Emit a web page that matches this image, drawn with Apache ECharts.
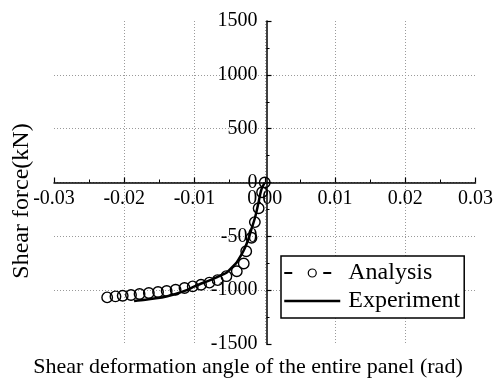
<!DOCTYPE html>
<html>
<head>
<meta charset="utf-8">
<script src="https://cdn.jsdelivr.net/npm/echarts@6/dist/echarts.min.js"></script>
<style>
  html, body { margin: 0; padding: 0; background: #fff; }
  #chart { width: 496px; height: 380px; }
</style>
</head>
<body>
<div id="chart"></div>
<script>
// Shear deformation angle (rad) vs. shear force (kN)
const analysisAngle = [-0.02243, -0.02125, -0.02022, -0.01904, -0.01782, -0.01650, -0.01519,
  -0.01396, -0.01269, -0.01142, -0.01025, -0.00907, -0.00788, -0.00671, -0.00546, -0.00398,
  -0.00299, -0.00264, -0.00189, -0.00141, -0.00087, -0.00038, 0.0];
const analysisForce = [-1067, -1058, -1052, -1045, -1036, -1027, -1017,
  -1008, -996, -980, -965, -950, -930, -907, -870, -824,
  -752, -638, -513, -368, -239, -90, 0];

const experimentAngle = [-0.0186, -0.0170, -0.0155, -0.0140, -0.0127, -0.0113, -0.0100,
  -0.0085, -0.0073, -0.0060, -0.0054, -0.0047, -0.0040, -0.0034, -0.0028, -0.0023,
  -0.0019, -0.0014, -0.0009, -0.0005, 0.0];
const experimentForce = [-1100, -1090, -1076, -1058, -1036, -1005, -965,
  -925, -895, -855, -835, -790, -742, -680, -603, -520,
  -433, -330, -190, -70, 0];

const xTicks = { min: -0.03, max: 0.03, step: 0.01 };
const yTicks = { min: -1500, max: 1500, step: 500 };

const xTitle = 'Shear deformation angle of the entire panel (rad)';
const yTitle = 'Shear force(kN)';

const FONT = "'Liberation Serif', 'Times New Roman', serif";

const pairs = (xs, ys) => xs.map((x, i) => [x, ys[i]]);

// plot area
const GRID = { left: 54, right: 17, top: 21, bottom: 36 };
const W = 496, H = 380;
const plotW = W - GRID.left - GRID.right;
const plotH = H - GRID.top - GRID.bottom;
// shift each axis from the plot edge onto the other axis' zero
const xZeroOffset = plotW * (0 - xTicks.min) / (xTicks.max - xTicks.min);
const yZeroOffset = plotH * (0 - yTicks.min) / (yTicks.max - yTicks.min);

const chart = echarts.init(document.getElementById('chart'), null, { renderer: 'canvas' });

const gridLine = { show: true, showMinLine: false, showMaxLine: false,
  lineStyle: { color: '#9a9a9a', width: 1, type: [1, 2] } };

chart.setOption({
  backgroundColor: '#fff',
  animation: false,
  grid: GRID,
  xAxis: {
    type: 'value', position: 'bottom', offset: -yZeroOffset,
    min: xTicks.min, max: xTicks.max, interval: xTicks.step,
    axisLine: { onZero: false, lineStyle: { color: '#000', width: 1.5 } },
    axisTick: { inside: true, length: 5, lineStyle: { color: '#000', width: 1.2 } },
    minorTick: { show: true, splitNumber: 2, length: 3, lineStyle: { color: '#000', width: 1 } },
    axisLabel: { margin: 6, color: '#000', fontFamily: FONT, fontSize: 20,
      formatter: v => v.toFixed(2) },
    splitLine: gridLine
  },
  yAxis: {
    type: 'value', position: 'left', offset: -xZeroOffset,
    min: yTicks.min, max: yTicks.max, interval: yTicks.step,
    axisLine: { onZero: false, lineStyle: { color: '#000', width: 1.5 } },
    axisTick: { inside: true, length: 5, lineStyle: { color: '#000', width: 1.2 } },
    minorTick: { show: true, splitNumber: 2, length: 3, lineStyle: { color: '#000', width: 1 } },
    axisLabel: { margin: 9, color: '#000', fontFamily: FONT, fontSize: 20,
      formatter: v => String(v) },
    splitLine: gridLine
  },
  legend: {
    orient: 'vertical',
    left: 281, top: 256,
    itemWidth: 56, itemHeight: 10, itemGap: 4,
    padding: [5, 4, 5, 2],
    borderColor: '#000', borderWidth: 1.5,
    backgroundColor: '#fff',
    textStyle: { color: '#000', fontFamily: FONT, fontSize: 24, padding: [0, 0, 0, 3] },
    data: [
      { name: 'Analysis',
        lineStyle: { color: '#000', width: 2, type: [8, 31], opacity: 1 },
        itemStyle: { color: 'rgba(0,0,0,0)', borderColor: '#000', borderWidth: 1.2 } },
      { name: 'Experiment',
        lineStyle: { color: '#000', width: 2.5, opacity: 1 },
        itemStyle: { opacity: 0 } }
    ]
  },
  graphic: [
    { type: 'text', left: 'center', top: 356,
      style: { text: xTitle, fill: '#000', font: '22px ' + FONT } },
    { type: 'text', x: 21.5, y: 201, rotation: Math.PI / 2,
      style: { text: yTitle, fill: '#000', font: '24px ' + FONT,
        align: 'center', verticalAlign: 'middle' } }
  ],
  series: [
    {
      name: 'Analysis',
      type: 'line',
      data: pairs(analysisAngle, analysisForce),
      symbol: 'circle', symbolSize: 10.5, showAllSymbol: true,
      lineStyle: { color: '#000', width: 1.5, type: [8, 31], opacity: 0 },
      itemStyle: { color: 'rgba(0,0,0,0)', borderColor: '#000', borderWidth: 1.4 },
      z: 3
    },
    {
      name: 'Experiment',
      type: 'line',
      data: pairs(experimentAngle, experimentForce),
      showSymbol: false, symbol: 'none',
      smooth: 0.3,
      lineStyle: { color: '#000', width: 2.5 },
      itemStyle: { color: '#000' },
      z: 2
    }
  ]
});
</script>
</body>
</html>
